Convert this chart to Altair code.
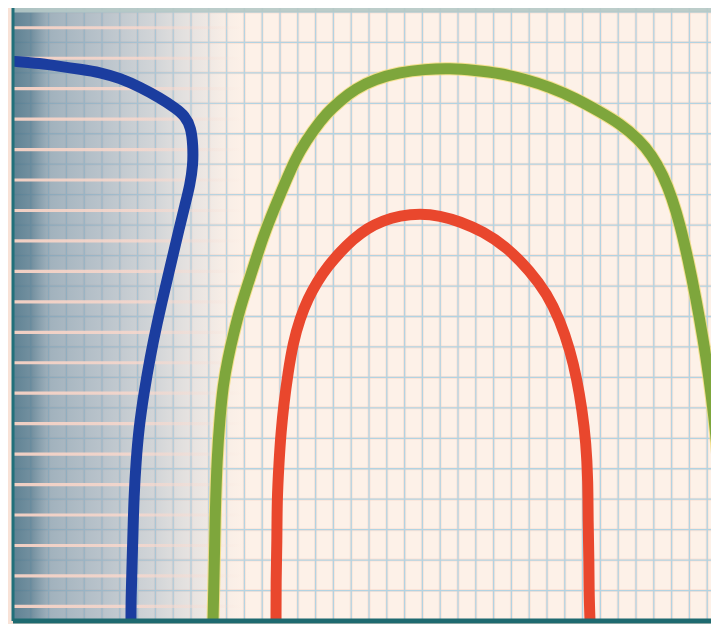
import altair as alt
import pandas as pd

# ---- data (x: px-like units from the left axis, y: units above the bottom axis) ----
blue_x = [2, 27, 47, 67, 87, 107, 127, 147, 162, 172, 178, 180, 180, 177, 172, 166, 159, 152, 144, 137, 131, 126, 123, 121, 120, 119, 118, 118]
blue_y = [566, 564, 561, 558, 555, 549, 540, 529, 519, 511, 499, 481, 461, 441, 421, 396, 366, 336, 301, 266, 231, 196, 161, 126, 91, 56, 21, 0]

green_x = [200, 201, 202, 204, 207, 210, 215, 220, 227, 234, 242, 250, 258, 267, 277, 287, 300, 314, 327, 342, 362, 387, 412, 437, 462, 487, 512, 537, 562, 587, 607, 625, 639, 650, 659, 667, 675, 683, 690, 696, 701, 705, 708]
green_y = [0, 41, 101, 166, 206, 238, 266, 288, 316, 338, 363, 388, 409, 431, 455, 476, 496, 514, 526, 538, 548, 555, 558, 559, 557, 554, 548, 540, 529, 515, 503, 488, 471, 451, 428, 401, 366, 326, 286, 246, 206, 166, 121]

red_x = [263, 263, 264, 264, 266, 268, 271, 275, 280, 287, 295, 304, 315, 327, 340, 354, 370, 387, 407, 427, 447, 470, 494, 517, 534, 547, 557, 564, 569, 573, 575, 575, 576, 576, 577]
red_y = [0, 41, 81, 121, 161, 191, 221, 251, 281, 306, 326, 343, 359, 373, 386, 397, 405, 410, 412, 410, 404, 394, 378, 354, 331, 304, 274, 244, 214, 181, 141, 101, 61, 31, 0]

series_names = ["blue", "green", "red"]
series_colors = ["#1b3d9f", "#7ea63c", "#e9472d"]

# grid positions
x_grid = [round(17.8 * k, 1) for k in range(1, 40)]
y_grid = [round(616 - 30.8 * k, 1) for k in range(21)]
pink_lines = [round(600 - 30.8 * k, 1) for k in range(20)]

X_MAX = 698
Y_MAX = 620

rows = []
for name, xs_, ys_ in [("blue", blue_x, blue_y), ("green", green_x, green_y), ("red", red_x, red_y)]:
    for i, (a, b) in enumerate(zip(xs_, ys_)):
        rows.append({"s": name, "i": i, "x": a, "y": b})
curves = pd.DataFrame(rows)

xs = alt.Scale(domain=[0, X_MAX], nice=False, zero=False)
ys = alt.Scale(domain=[0, Y_MAX], nice=False, zero=False)

shade_df = pd.DataFrame({"x0": [0], "x1": [240], "y0": [0], "y1": [Y_MAX]})
pink_df = pd.DataFrame({"y": pink_lines})
pink_df["y0"] = pink_df["y"] - 1.6
pink_df["y1"] = pink_df["y"] + 1.6
pink_df["x0"] = 0
pink_df["x1"] = 230
top_df = pd.DataFrame({"x0": [0], "x1": [X_MAX], "y0": [615.5], "y1": [Y_MAX]})
vgrid_df = pd.DataFrame({"x": x_grid})
hgrid_df = pd.DataFrame({"y": y_grid})

X = lambda f: alt.X(f, scale=xs, axis=None)
Y = lambda f: alt.Y(f, scale=ys, axis=None)

vgrid_halo = alt.Chart(vgrid_df).mark_rule(color="#f5cfbf", strokeWidth=3, opacity=0.4).encode(x=X("x:Q"))
vgrid = alt.Chart(vgrid_df).mark_rule(color="#b2d3e2", strokeWidth=1.3).encode(x=X("x:Q"))
hgrid_halo = alt.Chart(hgrid_df).mark_rule(color="#f5cfbf", strokeWidth=3, opacity=0.4).encode(y=Y("y:Q"))
hgrid = alt.Chart(hgrid_df).mark_rule(color="#b2d3e2", strokeWidth=1.3).encode(y=Y("y:Q"))

shade = alt.Chart(shade_df).mark_rect(
    fill=alt.Gradient(
        gradient="linear",
        x1=0, x2=1, y1=0, y2=0,
        stops=[
            alt.GradientStop(color="rgba(78,118,138,0.9)", offset=0.0),
            alt.GradientStop(color="rgba(92,128,148,0.85)", offset=0.08),
            alt.GradientStop(color="rgba(125,153,172,0.72)", offset=0.15),
            alt.GradientStop(color="rgba(145,168,186,0.62)", offset=0.38),
            alt.GradientStop(color="rgba(165,184,199,0.48)", offset=0.6),
            alt.GradientStop(color="rgba(195,205,214,0.28)", offset=0.8),
            alt.GradientStop(color="rgba(253,241,232,0)", offset=1.0),
        ],
    )
).encode(x=X("x0:Q"), x2="x1:Q", y=Y("y0:Q"), y2="y1:Q")

pink = alt.Chart(pink_df).mark_rect(
    fill=alt.Gradient(
        gradient="linear",
        x1=0, x2=1, y1=0, y2=0,
        stops=[
            alt.GradientStop(color="rgba(250,212,198,0.95)", offset=0.0),
            alt.GradientStop(color="rgba(250,216,204,0.8)", offset=0.55),
            alt.GradientStop(color="rgba(250,220,210,0)", offset=1.0),
        ],
    )
).encode(x=X("x0:Q"), x2="x1:Q", y=Y("y0:Q"), y2="y1:Q")

top_band = alt.Chart(top_df).mark_rect(color="#b5c9c6", opacity=0.9).encode(
    x=X("x0:Q"), x2="x1:Q", y=Y("y0:Q"), y2="y1:Q"
)

halo = alt.Chart(curves[curves.s == "green"]).mark_line(
    interpolate="basis", strokeWidth=13, color="#f1dc78",
    strokeCap="round", strokeJoin="round", clip=True, opacity=0.8,
).encode(x=X("x:Q"), y=Y("y:Q"), order="i:Q")

lines = alt.Chart(curves).mark_line(
    interpolate="basis", strokeWidth=11, strokeCap="round", strokeJoin="round", clip=True,
).encode(
    x=X("x:Q"),
    y=Y("y:Q"),
    color=alt.Color("s:N", scale=alt.Scale(domain=series_names, range=series_colors), legend=None),
    order="i:Q",
)

left_border = alt.Chart(shade_df).mark_rule(color="#21707a", strokeWidth=3).encode(x=X("x0:Q"))
bottom_border = alt.Chart(shade_df).mark_rule(color="#1e6a70", strokeWidth=5).encode(y=Y("y0:Q"))

chart = alt.layer(
    vgrid_halo, hgrid_halo, vgrid, hgrid, shade, pink, top_band, halo, lines, left_border, bottom_border
).properties(
    width=698,
    height=613,
    padding={"left": 5, "top": 0, "right": 0, "bottom": 3},
    autosize=alt.AutoSizeParams(type="none"),
    background="#f8e2d7",
).configure_view(fill="#fdf1e8", stroke=None)

chart.save("out.html", embed_options={"renderer": "svg", "actions": False})
